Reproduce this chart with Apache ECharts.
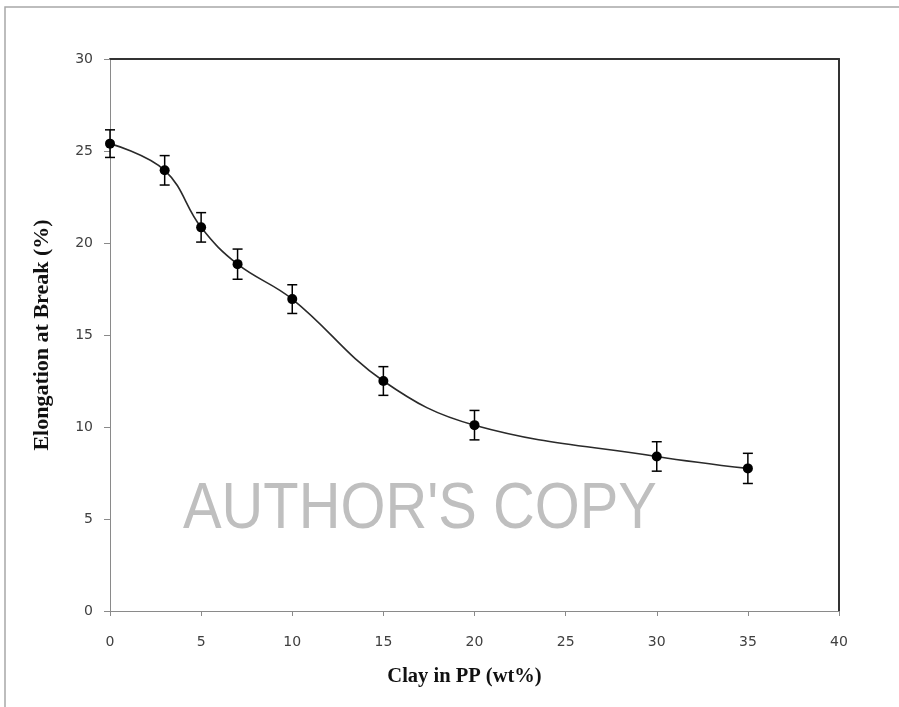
<!DOCTYPE html>
<html>
<head>
<meta charset="utf-8">
<script src="https://cdn.jsdelivr.net/npm/echarts@6/dist/echarts.min.js"></script>
<style>html,body{margin:0;padding:0;background:#fff}#c{width:899px;height:707px}</style>
</head>
<body>
<div id="c"></div>
<script>
var clay = [0, 3, 5, 7, 10, 15, 20, 30, 35];
var elongation = [25.4, 23.95, 20.85, 18.85, 16.95, 12.5, 10.1, 8.4, 7.75];
var errorBar = [0.75, 0.8, 0.8, 0.82, 0.78, 0.78, 0.8, 0.8, 0.82];
var xTicks = [0, 5, 10, 15, 20, 25, 30, 35, 40];
var yTicks = [0, 5, 10, 15, 20, 25, 30];

var chart = echarts.init(document.getElementById('c'));
var lineData = clay.map(function (x, i) { return [x, elongation[i]]; });
var errData = clay.map(function (x, i) { return [x, elongation[i] - errorBar[i], elongation[i] + errorBar[i]]; });
var labelStyle = { color: '#404040', fontFamily: 'DejaVu Sans', fontSize: 14 };

chart.setOption({
  animation: false,
  backgroundColor: '#fff',
  grid: { left: 110, right: 60, top: 59, bottom: 96 },
  xAxis: [{
    type: 'value', min: xTicks[0], max: xTicks[xTicks.length - 1], interval: 5,
    name: 'Clay in PP (wt%)', nameLocation: 'middle', nameGap: 55,
    nameTextStyle: { fontFamily: 'Liberation Serif', fontWeight: 'bold', fontSize: 20.5, color: '#111', padding: [0, 20, 0, 0] },
    axisLine: { onZero: false, lineStyle: { color: '#8a8a8a', width: 1 } },
    axisTick: { inside: false, length: 5, lineStyle: { color: '#8a8a8a' } },
    axisLabel: Object.assign({ margin: 24 }, labelStyle),
    splitLine: { show: false }
  }, {
    type: 'value', position: 'top', min: 0, max: 40,
    axisLine: { show: true, onZero: false, lineStyle: { color: '#333', width: 2 } },
    axisTick: { show: false }, axisLabel: { show: false }, splitLine: { show: false }
  }],
  yAxis: [{
    type: 'value', min: yTicks[0], max: yTicks[yTicks.length - 1], interval: 5,
    name: 'Elongation at Break (%)', nameLocation: 'middle', nameGap: 57,
    nameTextStyle: { fontFamily: 'Liberation Serif', fontWeight: 'bold', fontSize: 22, color: '#111' },
    axisLine: { show: true, onZero: false, lineStyle: { color: '#8a8a8a', width: 1 } },
    axisTick: { show: true, inside: false, length: 6, lineStyle: { color: '#8a8a8a' } },
    axisLabel: Object.assign({ margin: 17 }, labelStyle),
    splitLine: { show: false }
  }, {
    type: 'value', position: 'right', min: 0, max: 30,
    axisLine: { show: true, onZero: false, lineStyle: { color: '#333', width: 2 } },
    axisTick: { show: false }, axisLabel: { show: false }, splitLine: { show: false }
  }],
  graphic: [{
    type: 'rect', shape: { x: 5, y: 7, width: 1000, height: 1000 },
    style: { fill: 'none', stroke: '#a8a8a8', lineWidth: 1.5 }, z: -1
  }, {
    type: 'text', x: 183, y: 478, scaleX: 0.89, z: 1,
    style: { text: "AUTHOR'S COPY", fill: '#bfbfbf', font: '65px "Liberation Sans"' }
  }],
  series: [{
    type: 'line', data: lineData, smooth: 0.4,
    symbol: 'circle', symbolSize: 10,
    itemStyle: { color: '#000' },
    lineStyle: { color: '#2a2a2a', width: 1.6 },
    z: 3
  }, {
    type: 'custom', data: errData, z: 4,
    renderItem: function (params, api) {
      var x = api.value(0);
      var lo = api.coord([x, api.value(1)]);
      var hi = api.coord([x, api.value(2)]);
      var w = 5;
      var st = { stroke: '#000', lineWidth: 1.5 };
      return { type: 'group', children: [
        { type: 'line', shape: { x1: lo[0], y1: lo[1], x2: hi[0], y2: hi[1] }, style: st },
        { type: 'line', shape: { x1: lo[0] - w, y1: lo[1], x2: lo[0] + w, y2: lo[1] }, style: st },
        { type: 'line', shape: { x1: hi[0] - w, y1: hi[1], x2: hi[0] + w, y2: hi[1] }, style: st }
      ]};
    }
  }]
});
</script>
</body>
</html>
